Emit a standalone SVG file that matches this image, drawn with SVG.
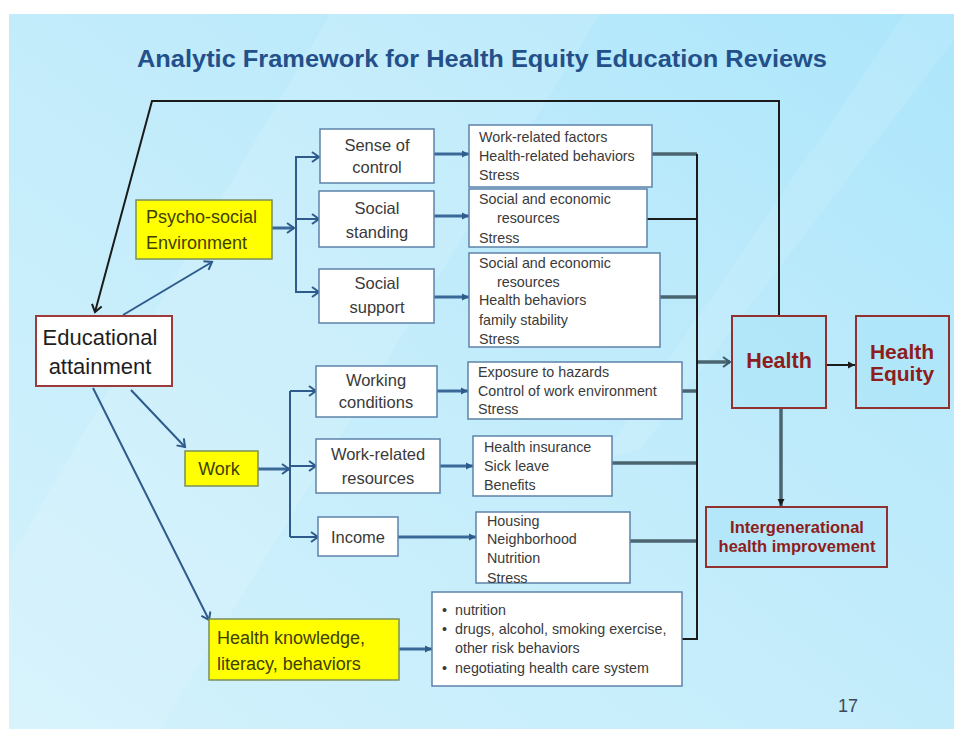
<svg xmlns="http://www.w3.org/2000/svg" width="954" height="729" viewBox="0 0 954 729">
<defs>
<linearGradient id="bg" x1="0" y1="1" x2="1" y2="0">
<stop offset="0" stop-color="#d3f2fc"/>
<stop offset="0.5" stop-color="#c3ecfb"/>
<stop offset="1" stop-color="#ade6fb"/>
</linearGradient>
<marker id="openBlue" markerUnits="userSpaceOnUse" markerWidth="14" markerHeight="14" refX="10" refY="7" orient="auto">
<path d="M3,2 L10,7 L3,12" fill="none" stroke="#2e5a8c" stroke-width="2"/>
</marker>
<marker id="openBlack" markerUnits="userSpaceOnUse" markerWidth="14" markerHeight="14" refX="10" refY="7" orient="auto">
<path d="M3,2 L10,7 L3,12" fill="none" stroke="#1b1b1b" stroke-width="2"/>
</marker>
<marker id="openGray" markerUnits="userSpaceOnUse" markerWidth="14" markerHeight="14" refX="10" refY="7" orient="auto">
<path d="M3,2 L10,7 L3,12" fill="none" stroke="#3e5866" stroke-width="2"/>
</marker>
<marker id="triBlue" markerUnits="userSpaceOnUse" markerWidth="10" markerHeight="10" refX="8" refY="5" orient="auto">
<path d="M1,1.5 L8,5 L1,8.5 Z" fill="#2e5a8c"/>
</marker>
<marker id="triBlack" markerUnits="userSpaceOnUse" markerWidth="10" markerHeight="10" refX="8" refY="5" orient="auto">
<path d="M1,1.5 L8,5 L1,8.5 Z" fill="#1b1b1b"/>
</marker>
<style>
.title{font-family:"Liberation Sans",Arial,sans-serif;font-weight:bold;font-size:23px;fill:#23508a}
.wb{fill:#ffffff;stroke:#5d82ab;stroke-width:1.5}
.yb{fill:#ffff00;stroke:#7a8f5a;stroke-width:1.5}
.rb{fill:#ffffff;stroke:#9c3b3b;stroke-width:2}
.hb{fill:#a9e3f7;fill-opacity:0.55;stroke:#923030;stroke-width:2}
.mid{font-family:"Liberation Sans",Arial,sans-serif;font-size:16.5px;fill:#3a3a3a;text-anchor:middle}
.sm{font-family:"Liberation Sans",Arial,sans-serif;font-size:14.3px;fill:#3a3a3a}
.yt{font-family:"Liberation Sans",Arial,sans-serif;font-size:18px;fill:#3f3f00}
.ed{font-family:"Liberation Sans",Arial,sans-serif;font-size:22px;fill:#1e1e1e;text-anchor:middle}
.red{font-family:"Liberation Sans",Arial,sans-serif;font-weight:bold;fill:#8e1d1d;text-anchor:middle}
.blue{stroke:#2e5a8c;stroke-width:2;fill:none}
.blueT{stroke:#3a6898;stroke-width:3;fill:none}
.bus{stroke:#1b1b1b;stroke-width:2;fill:none}
.feed{stroke:#4a6470;stroke-width:3.5;fill:none}
</style>
</defs>
<rect x="0" y="0" width="954" height="729" fill="#ffffff"/>
<rect x="9" y="14" width="945" height="715" fill="url(#bg)"/>
<polygon points="330,14 600,14 160,729 9,729 9,560" fill="#ffffff" opacity="0.12"/>
<polygon points="905,14 954,14 954,40 640,450 600,460" fill="#ffffff" opacity="0.10"/>
<text class="title" x="482" y="67" text-anchor="middle" textLength="690" lengthAdjust="spacingAndGlyphs">Analytic Framework for Health Equity Education Reviews</text>

<g id="connectors">
<polyline class="bus" points="779,316 779,101 152,101 95,312" marker-end="url(#openBlack)"/>
<line class="blue" x1="123" y1="315" x2="212" y2="262" marker-end="url(#openBlue)"/>
<line class="blue" x1="131" y1="390" x2="185" y2="447" marker-end="url(#openBlue)"/>
<line class="blue" x1="93" y1="388" x2="209" y2="620" marker-end="url(#openBlue)"/>
<line class="blueT" x1="272" y1="228" x2="294" y2="228" marker-end="url(#openBlue)"/>
<polyline class="blue" points="319,157 296,157 296,292 319,292"/>
<line class="blue" x1="296" y1="157" x2="319" y2="157" marker-end="url(#openBlue)"/>
<line class="blue" x1="296" y1="219" x2="319" y2="219" marker-end="url(#openBlue)"/>
<line class="blue" x1="296" y1="292" x2="319" y2="292" marker-end="url(#openBlue)"/>
<line class="blueT" x1="258" y1="469" x2="289" y2="469" marker-end="url(#openBlue)"/>
<line class="blue" x1="290" y1="391" x2="290" y2="537"/>
<line class="blue" x1="290" y1="391" x2="316" y2="391" marker-end="url(#openBlue)"/>
<line class="blue" x1="290" y1="466" x2="316" y2="466" marker-end="url(#openBlue)"/>
<line class="blue" x1="290" y1="537" x2="318" y2="537" marker-end="url(#openBlue)"/>
<line class="blueT" x1="434" y1="154" x2="469" y2="154" marker-end="url(#triBlue)"/>
<line class="blueT" x1="434" y1="216" x2="469" y2="216" marker-end="url(#triBlue)"/>
<line class="blueT" x1="434" y1="297" x2="469" y2="297" marker-end="url(#triBlue)"/>
<line class="blueT" x1="437" y1="391" x2="468" y2="391" marker-end="url(#triBlue)"/>
<line class="blueT" x1="440" y1="466" x2="473" y2="466" marker-end="url(#triBlue)"/>
<line class="blueT" x1="398" y1="537" x2="476" y2="537" marker-end="url(#triBlue)"/>
<line class="blueT" x1="399" y1="649" x2="432" y2="649" marker-end="url(#triBlue)"/>
<line class="feed" x1="652" y1="154" x2="697" y2="154"/>
<line class="bus" x1="647" y1="219" x2="697" y2="219"/>
<line class="feed" x1="660" y1="297" x2="697" y2="297"/>
<line class="feed" x1="682" y1="391" x2="697" y2="391"/>
<line class="feed" x1="612" y1="463" x2="697" y2="463"/>
<line class="feed" x1="630" y1="541" x2="697" y2="541"/>
<polyline class="bus" points="697,154 697,639 682,639"/>
<line class="feed" x1="698" y1="362" x2="730" y2="362" marker-end="url(#openGray)"/>
<line class="bus" x1="826" y1="365" x2="855" y2="365" marker-end="url(#triBlack)"/>
<line class="feed" x1="781" y1="408" x2="781" y2="506" marker-end="url(#triBlack)"/>
</g>

<g id="educational">
<rect class="rb" x="36" y="316" width="136" height="70"/>
<text class="ed" x="100" y="345">Educational</text>
<text class="ed" x="100" y="374">attainment</text>
</g>
<g id="psychosocial">
<rect class="yb" x="136" y="200" width="136" height="59"/>
<text class="yt" x="146" y="223">Psycho-social</text>
<text class="yt" x="146" y="249">Environment</text>
</g>
<g id="work">
<rect class="yb" x="185" y="451" width="73" height="35"/>
<text class="yt" x="219" y="475" text-anchor="middle" font-size="20">Work</text>
</g>
<g id="healthknowledge">
<rect class="yb" x="209" y="619" width="190" height="61"/>
<text class="yt" x="217" y="644" font-size="20">Health knowledge,</text>
<text class="yt" x="217" y="670" font-size="20">literacy, behaviors</text>
</g>

<g id="senseofcontrol">
<rect class="wb" x="320" y="129" width="114" height="54"/>
<text class="mid" x="377" y="151">Sense of</text>
<text class="mid" x="377" y="173">control</text>
</g>
<g id="socialstanding">
<rect class="wb" x="319" y="191" width="115" height="56"/>
<text class="mid" x="377" y="214">Social</text>
<text class="mid" x="377" y="238">standing</text>
</g>
<g id="socialsupport">
<rect class="wb" x="319" y="269" width="115" height="54"/>
<text class="mid" x="377" y="289">Social</text>
<text class="mid" x="377" y="313">support</text>
</g>
<g id="workingconditions">
<rect class="wb" x="316" y="366" width="121" height="51"/>
<text class="mid" x="376" y="386">Working</text>
<text class="mid" x="376" y="408">conditions</text>
</g>
<g id="workrelated">
<rect class="wb" x="316" y="439" width="124" height="54"/>
<text class="mid" x="378" y="460">Work-related</text>
<text class="mid" x="378" y="484">resources</text>
</g>
<g id="income">
<rect class="wb" x="318" y="517" width="80" height="39"/>
<text class="mid" x="358" y="543">Income</text>
</g>

<g id="outcomesA">
<rect class="wb" x="469" y="125" width="183" height="62"/>
<text class="sm" x="479" y="142">Work-related factors</text>
<text class="sm" x="479" y="161">Health-related behaviors</text>
<text class="sm" x="479" y="180">Stress</text>
</g>
<g id="outcomesB">
<rect class="wb" x="469" y="189" width="178" height="58"/>
<text class="sm" x="479" y="204">Social and economic</text>
<text class="sm" x="497" y="223">resources</text>
<text class="sm" x="479" y="243">Stress</text>
</g>
<g id="outcomesC">
<rect class="wb" x="469" y="253" width="191" height="94"/>
<text class="sm" x="479" y="268">Social and economic</text>
<text class="sm" x="497" y="287">resources</text>
<text class="sm" x="479" y="305">Health behaviors</text>
<text class="sm" x="479" y="325">family stability</text>
<text class="sm" x="479" y="344">Stress</text>
</g>
<g id="outcomesD">
<rect class="wb" x="468" y="362" width="214" height="57"/>
<text class="sm" x="478" y="377">Exposure to hazards</text>
<text class="sm" x="478" y="396">Control of work environment</text>
<text class="sm" x="478" y="414">Stress</text>
</g>
<g id="outcomesE">
<rect class="wb" x="473" y="436" width="139" height="60"/>
<text class="sm" x="484" y="452">Health insurance</text>
<text class="sm" x="484" y="471">Sick leave</text>
<text class="sm" x="484" y="490">Benefits</text>
</g>
<g id="outcomesF">
<rect class="wb" x="476" y="512" width="154" height="71"/>
<text class="sm" x="487" y="526">Housing</text>
<text class="sm" x="487" y="544">Neighborhood</text>
<text class="sm" x="487" y="563">Nutrition</text>
<text class="sm" x="487" y="583">Stress</text>
</g>
<g id="outcomesG">
<rect class="wb" x="432" y="592" width="250" height="94"/>
<text class="sm" x="442" y="615">•</text>
<text class="sm" x="455" y="615">nutrition</text>
<text class="sm" x="442" y="634">•</text>
<text class="sm" x="455" y="634">drugs, alcohol, smoking exercise,</text>
<text class="sm" x="455" y="653">other risk behaviors</text>
<text class="sm" x="442" y="673">•</text>
<text class="sm" x="455" y="673">negotiating health care system</text>
</g>

<g id="health">
<rect class="hb" x="732" y="316" width="94" height="92"/>
<text class="red" x="779" y="368" font-size="21.5">Health</text>
</g>
<g id="healthequity">
<rect class="hb" x="856" y="316" width="93" height="92"/>
<text class="red" x="902" y="359" font-size="21">Health</text>
<text class="red" x="902" y="381" font-size="21">Equity</text>
</g>
<g id="intergenerational">
<rect class="hb" x="706" y="507" width="181" height="60"/>
<text class="red" x="797" y="533" font-size="16.5">Intergenerational</text>
<text class="red" x="797" y="552" font-size="16.5">health improvement</text>
</g>
<text x="848" y="712" font-family="Liberation Sans, Arial, sans-serif" font-size="18" fill="#3b4a5a" text-anchor="middle">17</text>
</svg>
